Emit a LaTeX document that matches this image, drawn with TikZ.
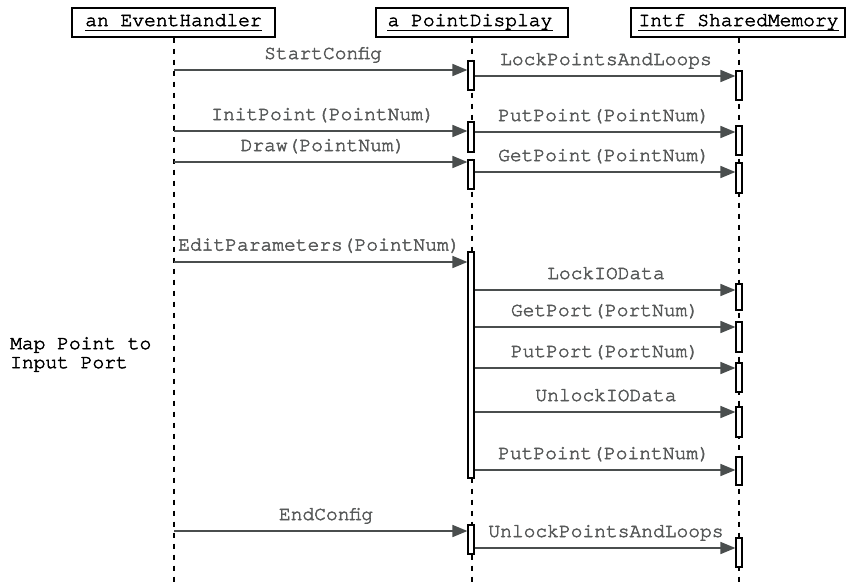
\documentclass[tikz,border=0pt]{standalone}
\usepackage{fontspec}
\setmainfont{TeX Gyre Cursor}
\usetikzlibrary{arrows.meta}
\definecolor{msgline}{RGB}{74,78,78}
\definecolor{msgtext}{RGB}{88,90,90}
% slightly heavier glyphs: fill and stroke the text outlines
\newcommand\heavytext[1]{\special{pdf:literal direct 2 Tr 0.5 w}#1\special{pdf:literal direct 0 Tr}}
\tikzset{
  txt/.style={font=\fontsize{19.6}{19}\selectfont, inner sep=0pt},
  headbox/.style={draw=black, line width=1.3pt, minimum height=29pt, inner sep=0pt},
  headtxt/.style={txt, text=black, anchor=base},
  lifeline/.style={draw=black, line width=1.2pt, dash pattern=on 5pt off 6pt},
  act/.style={draw=black, fill=white, line width=1.2pt, minimum width=6pt, inner sep=0pt},
  msg/.style={draw=msgline, line width=1.7pt, -{Triangle[length=15pt, width=12pt]}},
  lbl/.style={txt, text=msgtext, anchor=base},
  note/.style={txt, text=black, align=left, anchor=north west}
}
\begin{document}
\begin{tikzpicture}[x=1pt, y=-1pt]
\useasboundingbox (0,0) rectangle (849,582);

% object headers
\node[headbox, minimum width=203pt] (eh) at (173.5,22.5) {};
\node[headtxt] (ehT) at (173.5,26) {\heavytext{an EventHandler}};
\draw[line width=0.9pt] ([yshift=-4pt]ehT.base west) -- ([yshift=-4pt]ehT.base east);

\node[headbox, minimum width=192pt] (pd) at (472,22.5) {};
\node[headtxt] (pdT) at (470,26) {\heavytext{a PointDisplay}};
\draw[line width=0.9pt] ([yshift=-4pt]pdT.base west) -- ([yshift=-4pt]pdT.base east);

\node[headbox, minimum width=214pt] (sm) at (738,22.5) {};
\node[headtxt] (smT) at (738.5,26) {\heavytext{Intf SharedMemory}};
\draw[line width=0.9pt] ([yshift=-4pt]smT.base west) -- ([yshift=-4pt]smT.base east);

% lifelines
\coordinate (ehEnd) at (174,582);
\coordinate (pdEnd) at (472,582);
\coordinate (smEnd) at (739,582);
\draw[lifeline] (eh.south -| ehEnd) -- (ehEnd);
\draw[lifeline] (eh.south -| pdEnd) -- (pdEnd);
\draw[lifeline] (eh.south -| smEnd) -- (smEnd);

% activations on a PointDisplay
\node[act, minimum height=29pt]  (pa1) at (471,75.5) {};
\node[act, minimum height=30pt]  (pa2) at (471,137) {};
\node[act, minimum height=29pt]  (pa3) at (471,174.5) {};
\node[act, minimum height=226pt] (pa4) at (471,365) {};
\node[act, minimum height=29pt]  (pa5) at (471,539.5) {};

% activations on Intf SharedMemory
\node[act, minimum height=29pt] (sa1) at (739,85.5) {};
\node[act, minimum height=29pt] (sa2) at (739,140.5) {};
\node[act, minimum height=30pt] (sa3) at (739,178) {};
\node[act, minimum height=26pt] (sa4) at (739,297) {};
\node[act, minimum height=30pt] (sa5) at (739,337) {};
\node[act, minimum height=29pt] (sa6) at (739,377.5) {};
\node[act, minimum height=30pt] (sa7) at (739,422) {};
\node[act, minimum height=28pt] (sa8) at (739,471) {};
\node[act, minimum height=29pt] (sa9) at (739,552.5) {};

% messages from an EventHandler
\coordinate (e1) at (174,70);
\coordinate (e2) at (174,131);
\coordinate (e3) at (174,162);
\coordinate (e4) at (174,262);
\coordinate (e5) at (174,531);
\draw[msg] (e1) -- (e1 -| pa1.west);
\draw[msg] (e2) -- (e2 -| pa2.west);
\draw[msg] (e3) -- (e3 -| pa3.west);
\draw[msg] (e4) -- (e4 -| pa4.west);
\draw[msg] (e5) -- (e5 -| pa5.west);

\node[lbl] (le1) at (323,59) {\heavytext{StartConfig}};
\node[lbl] (le2) at (323,120) {\heavytext{InitPoint(PointNum)}};
\node[lbl] (le3) at (323,151) {\heavytext{Draw(PointNum)}};
\node[lbl, anchor=base west] (le4) at (178,250.5) {\heavytext{EditParameters(PointNum)}};
\node[lbl] (le5) at (326,520) {\heavytext{EndConfig}};

% messages from a PointDisplay
\coordinate (p1) at (472,76);
\coordinate (p2) at (472,132);
\coordinate (p3) at (472,172);
\coordinate (p4) at (472,290);
\coordinate (p5) at (472,327);
\coordinate (p6) at (472,368);
\coordinate (p7) at (472,412);
\coordinate (p8) at (472,470);
\coordinate (p9) at (472,548);
\draw[msg] (p1 -| pa1.east) -- (p1 -| sa1.west);
\draw[msg] (p2 -| pa2.east) -- (p2 -| sa2.west);
\draw[msg] (p3 -| pa3.east) -- (p3 -| sa3.west);
\draw[msg] (p4 -| pa4.east) -- (p4 -| sa4.west);
\draw[msg] (p5 -| pa4.east) -- (p5 -| sa5.west);
\draw[msg] (p6 -| pa4.east) -- (p6 -| sa6.west);
\draw[msg] (p7 -| pa4.east) -- (p7 -| sa7.west);
\draw[msg] (p8 -| pa4.east) -- (p8 -| sa8.west);
\draw[msg] (p9 -| pa5.east) -- (p9 -| sa9.west);

\node[lbl] (lp1) at (606,65) {\heavytext{LockPointsAndLoops}};
\node[lbl] (lp2) at (604,121) {\heavytext{PutPoint(PointNum)}};
\node[lbl] (lp3) at (604,161) {\heavytext{GetPoint(PointNum)}};
\node[lbl] (lp4) at (606,279) {\heavytext{LockIOData}};
\node[lbl] (lp5) at (605,316) {\heavytext{GetPort(PortNum)}};
\node[lbl] (lp6) at (605,357) {\heavytext{PutPort(PortNum)}};
\node[lbl] (lp7) at (606,401) {\heavytext{UnlockIOData}};
\node[lbl] (lp8) at (604,459) {\heavytext{PutPoint(PointNum)}};
\node[lbl] (lp9) at (606,537) {\heavytext{UnlockPointsAndLoops}};

% side note
\node[note] (nt) at (10,337) {\heavytext{Map Point to}\\\heavytext{Input Port}};
\end{tikzpicture}
\end{document}
